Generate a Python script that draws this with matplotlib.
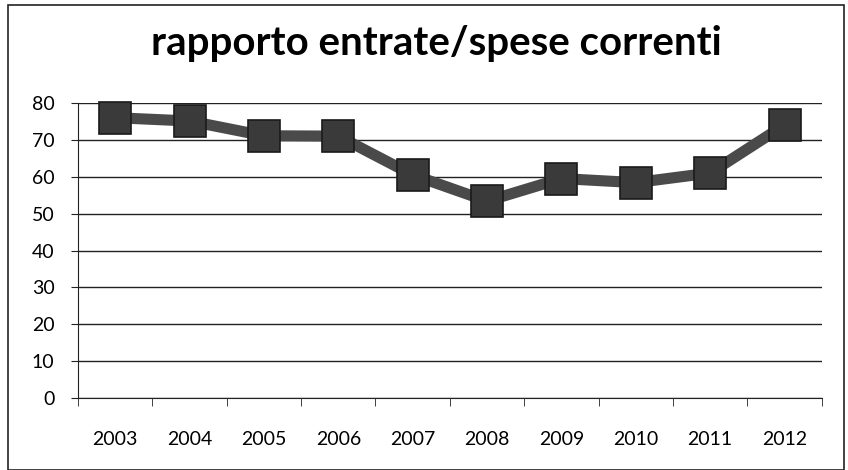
import matplotlib
matplotlib.use("Agg")
import matplotlib.pyplot as plt
from matplotlib.patches import Rectangle

years = ["2003", "2004", "2005", "2006", "2007", "2008", "2009", "2010", "2011", "2012"]
values = [76, 75.1, 71.1, 71, 60.5, 53.4, 59.5, 58.4, 61, 74]
yticks = [0, 10, 20, 30, 40, 50, 60, 70, 80]
title = "rapporto entrate/spese correnti"

plt.rcParams['font.family'] = ['Lato', 'DejaVu Sans']

fig = plt.figure(figsize=(8.48, 4.70), dpi=100)
ax = fig.add_axes([0.092, 0.153, 0.877, 0.628])

x = list(range(len(years)))
ax.plot(x, values, color="#4a4a4a", lw=8, zorder=3, clip_on=False, solid_joinstyle="miter")
ax.plot(x, values, ls="none", marker="s", ms=23, mfc="#3a3a3a", mec="#1a1a1a", mew=1.2,
        zorder=4, clip_on=False)

ax.set_xlim(-0.5, len(years) - 0.5)
ax.set_ylim(0, 80)
ax.set_yticks(yticks)
ax.set_yticklabels([str(v) for v in yticks], fontsize=14)
ax.yaxis.grid(True, color="#222222", lw=1.0)
ax.set_axisbelow(True)

ax.set_xticks(x)
ax.set_xticklabels(years, fontsize=14)
ax.set_xticks([i - 0.5 for i in range(len(years) + 1)], minor=True)
ax.tick_params(axis="x", which="major", length=0, pad=24)
ax.tick_params(axis="x", which="minor", length=6, direction="out", color="#222222")
ax.tick_params(axis="y", length=5, direction="out", color="#222222", pad=12)

for s in ["top", "right"]:
    ax.spines[s].set_visible(False)
ax.spines["left"].set_color("#222222")
ax.spines["bottom"].set_color("#222222")

fig.text(0.515, 0.908, title, ha="center", va="center", fontsize=29, fontweight="bold")

fig.patches.append(Rectangle((0.01, 0.0), 0.985, 0.99, transform=fig.transFigure,
                             fill=False, ec="#222222", lw=1.2))

fig.savefig("out.png", dpi=100)
